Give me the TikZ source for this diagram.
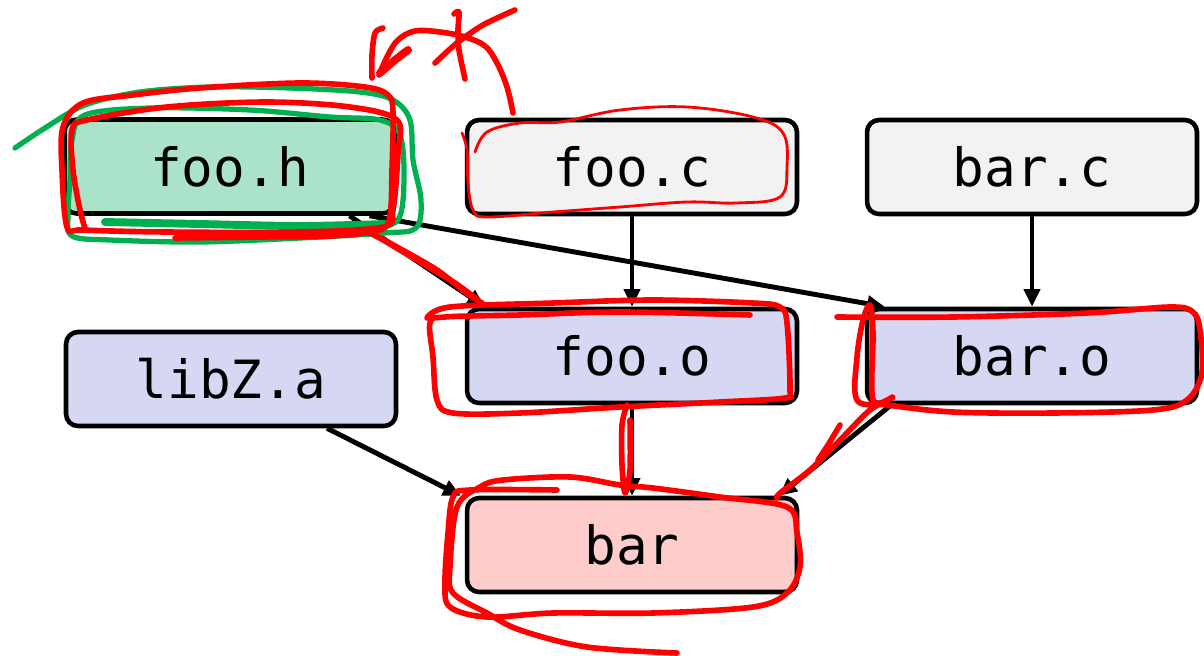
\documentclass[tikz,border=0pt]{standalone}
\usepackage{fontspec}
\setmonofont{DejaVu Sans Mono}
\usetikzlibrary{calc,arrows.meta}
\definecolor{hdrgreen}{HTML}{ABE3CA}
\definecolor{srcgray}{HTML}{F2F2F2}
\definecolor{objblue}{HTML}{D6D7F3}
\definecolor{binpink}{HTML}{FFCCCC}
\definecolor{penred}{HTML}{FF0000}
\definecolor{pengreen}{HTML}{00B050}
\tikzset{file/.style={draw=black,line width=2.6pt,rounded corners=0.24cm,minimum width=6.6cm,minimum height=1.88cm,font=\ttfamily\fontsize{30}{36}\selectfont},
  dep/.style={line width=2.8pt,-{Triangle[length=10pt,width=9pt]}},
  redpen/.style={penred,line width=3.2pt,line cap=round,line join=round},
  greenpen/.style={pengreen,line width=3pt,line cap=round,line join=round}}

\begin{document}
\begin{tikzpicture}[x=0.02cm,y=-0.02cm]
\useasboundingbox (0,0) rectangle (1204,656);
% files
\node[file,fill=hdrgreen] (fooh) at (229.5,166.5) {foo.h};
\node[file,fill=srcgray] (fooc) at (632,167) {foo.c};
\node[file,fill=srcgray] (barc) at (1032,167) {bar.c};
\node[file,fill=objblue] (libz) at (231,379) {libZ.a};
\node[file,fill=objblue] (fooo) at (632,356) {foo.o};
\node[file,fill=objblue] (baro) at (1032,356) {bar.o};
\node[file,fill=binpink] (bar) at (632,545) {bar};
% dependencies
\draw[dep] ($(fooh.south)+(120,0)$) -- ($(fooo.north west)+(20,0)$);
\draw[dep] ($(fooh.south)+(140,0)$) -- ($(baro.north west)+(20,0)$);
\draw[dep] (fooc) -- (fooo);
\draw[dep] (barc) -- (baro);
\draw[dep] (fooo) -- (bar);
\draw[dep] ($(libz.south)+(96,0)$) -- ($(bar.north west)+(-4,0)$);
\draw[dep] ($(baro.south west)+(26,0)$) -- ($(bar.north east)+(-20,0)$);
% green ink
\draw[greenpen] plot[smooth,tension=0.55] coordinates {(15,148) (45,128) (85,105) (140,92) (210,87) (290,88) (360,92) (393,100) (410,120) (413,160) (421,200) (416,228) (385,233) (300,238) (200,242) (110,240) (72,236) (68,215) (70,180) (72,140) (85,115) (150,108) (250,110) (330,117) (380,120) (400,135) (404,180) (398,220) (370,228)};
\draw[greenpen,line width=4.5pt] plot[smooth] coordinates {(105,222) (200,224) (300,226) (385,224)};
% red ink
\draw[redpen] plot[smooth,tension=0.55] coordinates {(175,238) (260,237) (330,236) (380,230) (390,215) (392,170) (393,112) (388,95) (365,87) (300,83) (200,88) (133,95) (83,103) (63,127) (62,170) (67,227) (83,230) (167,232) (300,232) (383,227) (393,210) (398,153) (397,120) (350,107) (267,102) (167,107) (87,120) (72,130) (73,170) (80,210) (85,228)};
\draw[redpen] plot[smooth] coordinates {(368,232) (397,247) (437,270) (465,292) (482,303)};
\draw[redpen] plot[smooth] coordinates {(375,235) (420,262) (455,283) (478,300)};
\draw[redpen] plot[smooth,tension=0.6] coordinates {(513,113) (507,87) (497,63) (485,46) (465,37) (440,32) (415,31) (398,40) (388,55) (379,75)};
\draw[redpen,line width=4.5pt] plot[smooth] coordinates {(408,50) (395,60) (380,73)};
\draw[redpen] plot[smooth] coordinates {(372,78) (372,55) (375,33) (383,28)};
\draw[redpen] plot[smooth] coordinates {(435,63) (457,43) (483,25) (515,10)};
\draw[redpen] plot[smooth] coordinates {(454,14) (459,12) (458,30) (459,50) (465,79)};
\draw[redpen,line width=1.6pt] plot[smooth,tension=0.6] coordinates {(475,152) (487,132) (520,123) (560,122) (620,110) (687,107) (753,117) (783,133) (787,167) (780,197) (737,203) (687,202) (620,207) (553,212) (487,217) (473,210) (468,183) (467,150) (462,133)};
\draw[redpen] plot[smooth,tension=0.55] coordinates {(427,318) (450,307) (553,303) (653,300) (753,303) (780,307) (787,323) (790,390) (785,398) (720,402) (620,407) (520,413) (453,413) (437,400) (433,357) (430,323) (445,317) (520,315) (620,312) (750,315)};
\draw[redpen] plot[smooth] coordinates {(627,405) (622,425) (622,465) (625,493) (630,470) (630,420)};
\draw[redpen] plot[smooth,tension=0.55] coordinates {(837,317) (953,317) (1087,313) (1170,307) (1193,312) (1200,330) (1202,373) (1187,400) (1153,410) (1053,413) (953,412) (887,405) (857,400) (857,357) (863,320) (870,305) (873,333) (873,400) (893,397) (870,410) (843,437) (810,470) (780,493) (777,498)};
\draw[redpen] plot[smooth] coordinates {(840,425) (828,445) (818,460)};
\draw[redpen] plot[smooth,tension=0.55] coordinates {(557,490) (470,490) (453,497) (448,533) (445,583) (450,607) (487,617) (553,613) (653,613) (753,607) (787,593) (800,567) (797,533) (787,507) (720,497) (653,488) (620,485) (570,477) (503,480) (480,487) (457,507) (450,567) (453,593) (487,613) (520,630) (587,647) (677,653)};
\end{tikzpicture}
\end{document}
